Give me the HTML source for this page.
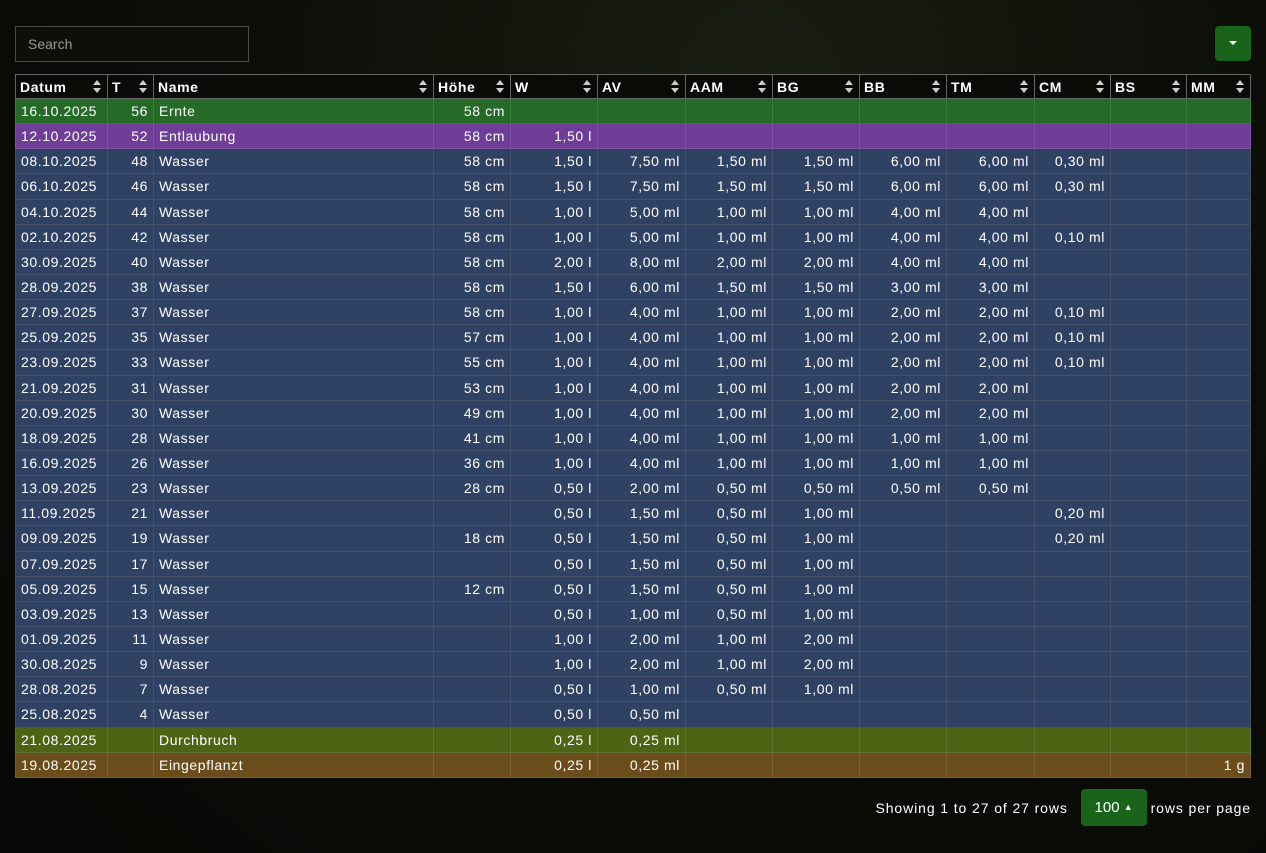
<!DOCTYPE html>
<html><head><meta charset="utf-8"><style>
html,body{margin:0;padding:0;}
body{width:1266px;height:853px;overflow:hidden;background:radial-gradient(ellipse at 60% 10%,#1a1d12 0%,#0c0d08 50%,#080806 100%);font-family:"Liberation Sans",sans-serif;color:#fff;position:relative;}
.search{position:absolute;left:15px;top:26px;width:234px;height:36px;border:1px solid #4a4a44;background:#0e0f0a;box-sizing:border-box;color:#9a9a92;font-size:14px;line-height:34px;padding-left:12px;}
.btn{position:absolute;left:1215px;top:26px;width:36px;height:35px;background:#17641a;border-radius:4px;}
.btn:after{content:"";position:absolute;left:14px;top:15px;border-left:4px solid transparent;border-right:4px solid transparent;border-top:4px solid #fff;}
table{position:absolute;left:15px;top:74px;border-collapse:collapse;table-layout:fixed;width:1236px;font-size:14px;letter-spacing:0.6px;}
th{height:23px;background:#0a0a07;border:1px solid #666;text-align:left;padding:0 4px;font-weight:bold;position:relative;font-size:14px;}
th:after{content:"";position:absolute;right:6px;top:5px;width:0;height:0;border-left:4px solid transparent;border-right:4px solid transparent;border-bottom:5px solid #ccc;}
th:before{content:"";position:absolute;right:6px;top:13px;width:0;height:0;border-left:4px solid transparent;border-right:4px solid transparent;border-top:5px solid #ccc;}
td{height:24.15px;border:1px solid #465168;padding:0 5px;white-space:nowrap;overflow:hidden;}
td.r{text-align:right;}
tr.b td{background:#2f4263;}
tr.g td{background:#266a27;border-color:#3d7a3e;}
tr.p td{background:#6f3d98;border-color:#7d52a0;}
tr.o td{background:#4d6414;border-color:#5e7230;}
tr.br td{background:#6a4d1b;border-color:#7a6038;}
.foot{position:absolute;right:15px;top:789px;height:38px;font-size:14px;line-height:38px;letter-spacing:0.9px;}
.pg{display:inline-block;background:#17641a;border-radius:4px;width:66px;height:37px;text-align:center;vertical-align:top;margin:0 4px 0 8px;font-size:15px;letter-spacing:0;}
</style></head><body>
<div class="search">Search</div>
<div class="btn"></div>
<table>
<colgroup><col style="width:92px"><col style="width:46px"><col style="width:280px"><col style="width:77px"><col style="width:87px"><col style="width:88px"><col style="width:87px"><col style="width:87px"><col style="width:87px"><col style="width:88px"><col style="width:76px"><col style="width:76px"><col style="width:64px"></colgroup>
<tr><th>Datum</th><th>T</th><th>Name</th><th>Höhe</th><th>W</th><th>AV</th><th>AAM</th><th>BG</th><th>BB</th><th>TM</th><th>CM</th><th>BS</th><th>MM</th></tr>
<tr class="g"><td>16.10.2025</td><td class="r">56</td><td>Ernte</td><td class="r">58 cm</td><td></td><td></td><td></td><td></td><td></td><td></td><td></td><td></td><td></td></tr>
<tr class="p"><td>12.10.2025</td><td class="r">52</td><td>Entlaubung</td><td class="r">58 cm</td><td class="r">1,50 l</td><td></td><td></td><td></td><td></td><td></td><td></td><td></td><td></td></tr>
<tr class="b"><td>08.10.2025</td><td class="r">48</td><td>Wasser</td><td class="r">58 cm</td><td class="r">1,50 l</td><td class="r">7,50 ml</td><td class="r">1,50 ml</td><td class="r">1,50 ml</td><td class="r">6,00 ml</td><td class="r">6,00 ml</td><td class="r">0,30 ml</td><td></td><td></td></tr>
<tr class="b"><td>06.10.2025</td><td class="r">46</td><td>Wasser</td><td class="r">58 cm</td><td class="r">1,50 l</td><td class="r">7,50 ml</td><td class="r">1,50 ml</td><td class="r">1,50 ml</td><td class="r">6,00 ml</td><td class="r">6,00 ml</td><td class="r">0,30 ml</td><td></td><td></td></tr>
<tr class="b"><td>04.10.2025</td><td class="r">44</td><td>Wasser</td><td class="r">58 cm</td><td class="r">1,00 l</td><td class="r">5,00 ml</td><td class="r">1,00 ml</td><td class="r">1,00 ml</td><td class="r">4,00 ml</td><td class="r">4,00 ml</td><td></td><td></td><td></td></tr>
<tr class="b"><td>02.10.2025</td><td class="r">42</td><td>Wasser</td><td class="r">58 cm</td><td class="r">1,00 l</td><td class="r">5,00 ml</td><td class="r">1,00 ml</td><td class="r">1,00 ml</td><td class="r">4,00 ml</td><td class="r">4,00 ml</td><td class="r">0,10 ml</td><td></td><td></td></tr>
<tr class="b"><td>30.09.2025</td><td class="r">40</td><td>Wasser</td><td class="r">58 cm</td><td class="r">2,00 l</td><td class="r">8,00 ml</td><td class="r">2,00 ml</td><td class="r">2,00 ml</td><td class="r">4,00 ml</td><td class="r">4,00 ml</td><td></td><td></td><td></td></tr>
<tr class="b"><td>28.09.2025</td><td class="r">38</td><td>Wasser</td><td class="r">58 cm</td><td class="r">1,50 l</td><td class="r">6,00 ml</td><td class="r">1,50 ml</td><td class="r">1,50 ml</td><td class="r">3,00 ml</td><td class="r">3,00 ml</td><td></td><td></td><td></td></tr>
<tr class="b"><td>27.09.2025</td><td class="r">37</td><td>Wasser</td><td class="r">58 cm</td><td class="r">1,00 l</td><td class="r">4,00 ml</td><td class="r">1,00 ml</td><td class="r">1,00 ml</td><td class="r">2,00 ml</td><td class="r">2,00 ml</td><td class="r">0,10 ml</td><td></td><td></td></tr>
<tr class="b"><td>25.09.2025</td><td class="r">35</td><td>Wasser</td><td class="r">57 cm</td><td class="r">1,00 l</td><td class="r">4,00 ml</td><td class="r">1,00 ml</td><td class="r">1,00 ml</td><td class="r">2,00 ml</td><td class="r">2,00 ml</td><td class="r">0,10 ml</td><td></td><td></td></tr>
<tr class="b"><td>23.09.2025</td><td class="r">33</td><td>Wasser</td><td class="r">55 cm</td><td class="r">1,00 l</td><td class="r">4,00 ml</td><td class="r">1,00 ml</td><td class="r">1,00 ml</td><td class="r">2,00 ml</td><td class="r">2,00 ml</td><td class="r">0,10 ml</td><td></td><td></td></tr>
<tr class="b"><td>21.09.2025</td><td class="r">31</td><td>Wasser</td><td class="r">53 cm</td><td class="r">1,00 l</td><td class="r">4,00 ml</td><td class="r">1,00 ml</td><td class="r">1,00 ml</td><td class="r">2,00 ml</td><td class="r">2,00 ml</td><td></td><td></td><td></td></tr>
<tr class="b"><td>20.09.2025</td><td class="r">30</td><td>Wasser</td><td class="r">49 cm</td><td class="r">1,00 l</td><td class="r">4,00 ml</td><td class="r">1,00 ml</td><td class="r">1,00 ml</td><td class="r">2,00 ml</td><td class="r">2,00 ml</td><td></td><td></td><td></td></tr>
<tr class="b"><td>18.09.2025</td><td class="r">28</td><td>Wasser</td><td class="r">41 cm</td><td class="r">1,00 l</td><td class="r">4,00 ml</td><td class="r">1,00 ml</td><td class="r">1,00 ml</td><td class="r">1,00 ml</td><td class="r">1,00 ml</td><td></td><td></td><td></td></tr>
<tr class="b"><td>16.09.2025</td><td class="r">26</td><td>Wasser</td><td class="r">36 cm</td><td class="r">1,00 l</td><td class="r">4,00 ml</td><td class="r">1,00 ml</td><td class="r">1,00 ml</td><td class="r">1,00 ml</td><td class="r">1,00 ml</td><td></td><td></td><td></td></tr>
<tr class="b"><td>13.09.2025</td><td class="r">23</td><td>Wasser</td><td class="r">28 cm</td><td class="r">0,50 l</td><td class="r">2,00 ml</td><td class="r">0,50 ml</td><td class="r">0,50 ml</td><td class="r">0,50 ml</td><td class="r">0,50 ml</td><td></td><td></td><td></td></tr>
<tr class="b"><td>11.09.2025</td><td class="r">21</td><td>Wasser</td><td></td><td class="r">0,50 l</td><td class="r">1,50 ml</td><td class="r">0,50 ml</td><td class="r">1,00 ml</td><td></td><td></td><td class="r">0,20 ml</td><td></td><td></td></tr>
<tr class="b"><td>09.09.2025</td><td class="r">19</td><td>Wasser</td><td class="r">18 cm</td><td class="r">0,50 l</td><td class="r">1,50 ml</td><td class="r">0,50 ml</td><td class="r">1,00 ml</td><td></td><td></td><td class="r">0,20 ml</td><td></td><td></td></tr>
<tr class="b"><td>07.09.2025</td><td class="r">17</td><td>Wasser</td><td></td><td class="r">0,50 l</td><td class="r">1,50 ml</td><td class="r">0,50 ml</td><td class="r">1,00 ml</td><td></td><td></td><td></td><td></td><td></td></tr>
<tr class="b"><td>05.09.2025</td><td class="r">15</td><td>Wasser</td><td class="r">12 cm</td><td class="r">0,50 l</td><td class="r">1,50 ml</td><td class="r">0,50 ml</td><td class="r">1,00 ml</td><td></td><td></td><td></td><td></td><td></td></tr>
<tr class="b"><td>03.09.2025</td><td class="r">13</td><td>Wasser</td><td></td><td class="r">0,50 l</td><td class="r">1,00 ml</td><td class="r">0,50 ml</td><td class="r">1,00 ml</td><td></td><td></td><td></td><td></td><td></td></tr>
<tr class="b"><td>01.09.2025</td><td class="r">11</td><td>Wasser</td><td></td><td class="r">1,00 l</td><td class="r">2,00 ml</td><td class="r">1,00 ml</td><td class="r">2,00 ml</td><td></td><td></td><td></td><td></td><td></td></tr>
<tr class="b"><td>30.08.2025</td><td class="r">9</td><td>Wasser</td><td></td><td class="r">1,00 l</td><td class="r">2,00 ml</td><td class="r">1,00 ml</td><td class="r">2,00 ml</td><td></td><td></td><td></td><td></td><td></td></tr>
<tr class="b"><td>28.08.2025</td><td class="r">7</td><td>Wasser</td><td></td><td class="r">0,50 l</td><td class="r">1,00 ml</td><td class="r">0,50 ml</td><td class="r">1,00 ml</td><td></td><td></td><td></td><td></td><td></td></tr>
<tr class="b"><td>25.08.2025</td><td class="r">4</td><td>Wasser</td><td></td><td class="r">0,50 l</td><td class="r">0,50 ml</td><td></td><td></td><td></td><td></td><td></td><td></td><td></td></tr>
<tr class="o"><td>21.08.2025</td><td></td><td>Durchbruch</td><td></td><td class="r">0,25 l</td><td class="r">0,25 ml</td><td></td><td></td><td></td><td></td><td></td><td></td><td></td></tr>
<tr class="br"><td>19.08.2025</td><td></td><td>Eingepflanzt</td><td></td><td class="r">0,25 l</td><td class="r">0,25 ml</td><td></td><td></td><td></td><td></td><td></td><td></td><td class="r">1 g</td></tr>
</table>
<div class="foot">Showing 1 to 27 of 27 rows <span class="pg">100 <span style="font-size:9px;position:relative;top:-2px">▲</span></span>rows per page</div>
</body></html>
